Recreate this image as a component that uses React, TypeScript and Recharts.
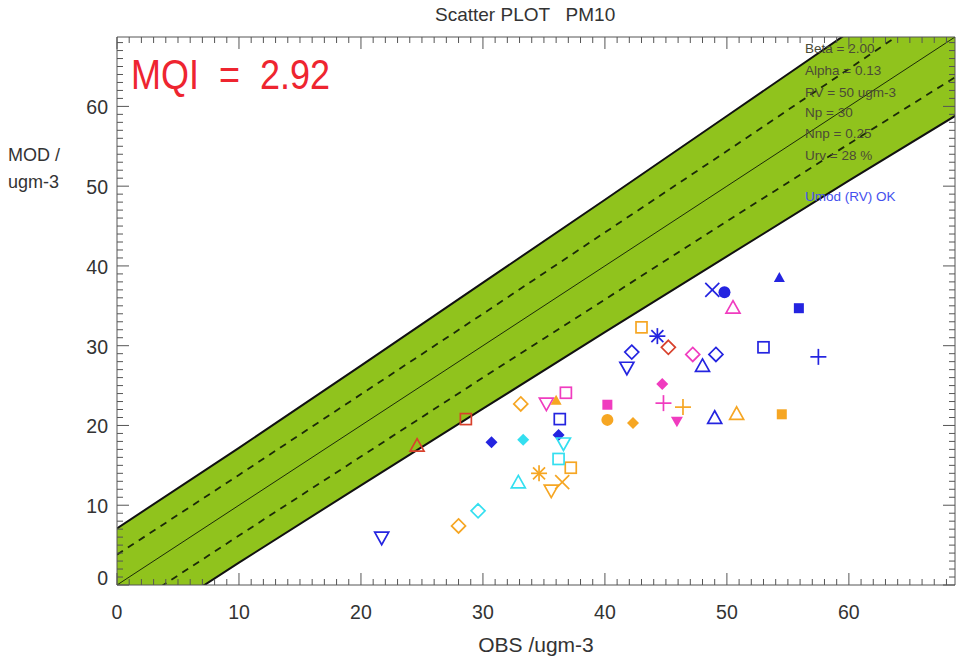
import React from 'react';
import { ComposedChart, XAxis, YAxis, Area, Line, Scatter } from 'recharts';

// ---------- data ----------
const bandX = [0, 10, 20, 30, 40, 50, 60, 70];
const outerHalfWidth = [7.1, 7.2, 7.5, 7.9, 8.3, 8.8, 9.3, 10.0];
const innerHalfWidth = [3.8, 3.8, 3.9, 4.0, 4.2, 4.4, 4.7, 5.1];

const majorTicks = [0, 10, 20, 30, 40, 50, 60];
const minorTicks = Array.from({ length: 69 }, (_, i) => i);
const axisMax = 68.7;

const statLines = ['Beta = 2.00', 'Alpha = 0.13', 'RV = 50 ugm-3', 'Np = 30', 'Nnp = 0.25', 'Urv = 28 %'];
const statusLine = 'Umod (RV) OK';
const mqiText = 'MQI  =  2.92';
const titleText = 'Scatter PLOT   PM10';

// blue
const blueFilledTriangle = [{ x: 54.3, y: 38.5 }];
const blueX = [{ x: 48.8, y: 37.0 }];
const blueFilledCircle = [{ x: 49.8, y: 36.7 }];
const blueFilledSquare = [{ x: 55.9, y: 34.7 }];
const blueAsterisk = [{ x: 44.3, y: 31.2 }];
const blueOpenSquare = [{ x: 53.0, y: 29.8 }, { x: 36.3, y: 20.8 }];
const bluePlus = [{ x: 57.5, y: 28.6 }];
const blueOpenDiamond = [{ x: 42.2, y: 29.2 }, { x: 49.1, y: 28.9 }];
const blueOpenInvTriangle = [{ x: 41.8, y: 27.3 }, { x: 21.7, y: 6.0 }];
const blueOpenTriangle = [{ x: 48.0, y: 27.4 }, { x: 49.0, y: 20.9 }];
const blueFilledDiamond = [{ x: 30.7, y: 17.9 }, { x: 36.2, y: 18.8 }];
// magenta
const magentaOpenTriangle = [{ x: 50.5, y: 34.7 }];
const magentaOpenDiamond = [{ x: 47.2, y: 28.9 }];
const magentaFilledDiamond = [{ x: 44.7, y: 25.2 }];
const magentaFilledSquare = [{ x: 40.2, y: 22.6 }];
const magentaPlus = [{ x: 44.8, y: 22.8 }];
const magentaFilledInvTriangle = [{ x: 45.9, y: 20.6 }];
const magentaOpenSquare = [{ x: 36.8, y: 24.1 }];
const magentaOpenInvTriangle = [{ x: 35.2, y: 22.8 }];
// orange
const orangeOpenSquare = [{ x: 43.0, y: 32.3 }, { x: 37.2, y: 14.7 }];
const orangePlus = [{ x: 46.4, y: 22.3 }];
const orangeFilledCircle = [{ x: 40.2, y: 20.7 }];
const orangeFilledDiamond = [{ x: 42.3, y: 20.3 }];
const orangeOpenTriangle = [{ x: 50.8, y: 21.4 }];
const orangeFilledSquare = [{ x: 54.5, y: 21.4 }];
const orangeFilledTriangle = [{ x: 36.0, y: 23.1 }];
const orangeOpenDiamond = [{ x: 33.1, y: 22.7 }, { x: 28.0, y: 7.4 }];
const orangeAsterisk = [{ x: 34.6, y: 14.0 }];
const orangeX = [{ x: 36.5, y: 12.9 }];
const orangeOpenInvTriangle = [{ x: 35.6, y: 11.9 }];
// cyan
const cyanFilledDiamond = [{ x: 33.3, y: 18.2 }];
const cyanOpenInvTriangle = [{ x: 36.6, y: 17.8 }];
const cyanOpenSquare = [{ x: 36.2, y: 15.8 }];
const cyanOpenTriangle = [{ x: 32.9, y: 12.8 }];
const cyanOpenDiamond = [{ x: 29.6, y: 9.3 }];
// red
const redOpenDiamond = [{ x: 45.2, y: 29.8 }];
const redOpenSquare = [{ x: 28.6, y: 20.8 }];
const redOpenTriangle = [{ x: 24.6, y: 17.4 }];

// ---------- styles ----------
const BLUE = '#2424e0';
const MAGENTA = '#f03cbf';
const ORANGE = '#f6a623';
const CYAN = '#34dff0';
const RED = '#d8412c';
const GREEN = '#90c31d';
const AXIS = '#555';
const FONT = '"Liberation Sans", Arial, sans-serif';

const series: { data: { x: number; y: number }[]; kind: string; color: string }[] = [
  { data: blueFilledTriangle, kind: 'filledTriangle', color: BLUE },
  { data: blueX, kind: 'x', color: BLUE },
  { data: blueFilledCircle, kind: 'filledCircle', color: BLUE },
  { data: blueFilledSquare, kind: 'filledSquare', color: BLUE },
  { data: blueAsterisk, kind: 'asterisk', color: BLUE },
  { data: blueOpenSquare, kind: 'openSquare', color: BLUE },
  { data: bluePlus, kind: 'plus', color: BLUE },
  { data: blueOpenDiamond, kind: 'openDiamond', color: BLUE },
  { data: blueOpenInvTriangle, kind: 'openInvTriangle', color: BLUE },
  { data: blueOpenTriangle, kind: 'openTriangle', color: BLUE },
  { data: blueFilledDiamond, kind: 'filledDiamond', color: BLUE },
  { data: magentaOpenTriangle, kind: 'openTriangle', color: MAGENTA },
  { data: magentaOpenDiamond, kind: 'openDiamond', color: MAGENTA },
  { data: magentaFilledDiamond, kind: 'filledDiamond', color: MAGENTA },
  { data: magentaFilledSquare, kind: 'filledSquare', color: MAGENTA },
  { data: magentaPlus, kind: 'plus', color: MAGENTA },
  { data: magentaFilledInvTriangle, kind: 'filledInvTriangle', color: MAGENTA },
  { data: magentaOpenSquare, kind: 'openSquare', color: MAGENTA },
  { data: magentaOpenInvTriangle, kind: 'openInvTriangle', color: MAGENTA },
  { data: orangeOpenSquare, kind: 'openSquare', color: ORANGE },
  { data: orangePlus, kind: 'plus', color: ORANGE },
  { data: orangeFilledCircle, kind: 'filledCircle', color: ORANGE },
  { data: orangeFilledDiamond, kind: 'filledDiamond', color: ORANGE },
  { data: orangeOpenTriangle, kind: 'openTriangle', color: ORANGE },
  { data: orangeFilledSquare, kind: 'filledSquare', color: ORANGE },
  { data: orangeFilledTriangle, kind: 'filledTriangle', color: ORANGE },
  { data: orangeOpenDiamond, kind: 'openDiamond', color: ORANGE },
  { data: orangeAsterisk, kind: 'asterisk', color: ORANGE },
  { data: orangeX, kind: 'x', color: ORANGE },
  { data: orangeOpenInvTriangle, kind: 'openInvTriangle', color: ORANGE },
  { data: cyanFilledDiamond, kind: 'filledDiamond', color: CYAN },
  { data: cyanOpenInvTriangle, kind: 'openInvTriangle', color: CYAN },
  { data: cyanOpenSquare, kind: 'openSquare', color: CYAN },
  { data: cyanOpenTriangle, kind: 'openTriangle', color: CYAN },
  { data: cyanOpenDiamond, kind: 'openDiamond', color: CYAN },
  { data: redOpenDiamond, kind: 'openDiamond', color: RED },
  { data: redOpenSquare, kind: 'openSquare', color: RED },
  { data: redOpenTriangle, kind: 'openTriangle', color: RED },
];

const bandRows = bandX.map((x, i) => ({
  x,
  band: [x - outerHalfWidth[i], x + outerHalfWidth[i]],
  upper: x + outerHalfWidth[i],
  lower: x - outerHalfWidth[i],
  dashUp: x + innerHalfWidth[i],
  dashLo: x - innerHalfWidth[i],
  oneToOne: x,
}));

function Marker({ cx, cy, kind, color }: any) {
  if (cx == null || cy == null) return null;
  const sw = 1.7;
  switch (kind) {
    case 'openSquare':
      return <rect x={cx - 5.5} y={cy - 5.5} width={11} height={11} fill="none" stroke={color} strokeWidth={sw} />;
    case 'filledSquare':
      return <rect x={cx - 5} y={cy - 5} width={10} height={10} fill={color} />;
    case 'openDiamond':
      return <polygon points={`${cx},${cy - 7} ${cx + 7},${cy} ${cx},${cy + 7} ${cx - 7},${cy}`} fill="none" stroke={color} strokeWidth={sw} />;
    case 'filledDiamond':
      return <polygon points={`${cx},${cy - 6} ${cx + 6},${cy} ${cx},${cy + 6} ${cx - 6},${cy}`} fill={color} />;
    case 'openTriangle':
      return <polygon points={`${cx},${cy - 7.5} ${cx + 7},${cy + 5} ${cx - 7},${cy + 5}`} fill="none" stroke={color} strokeWidth={sw} />;
    case 'filledTriangle':
      return <polygon points={`${cx},${cy - 6} ${cx + 5.5},${cy + 4} ${cx - 5.5},${cy + 4}`} fill={color} />;
    case 'openInvTriangle':
      return <polygon points={`${cx - 7},${cy - 5} ${cx + 7},${cy - 5} ${cx},${cy + 7.5}`} fill="none" stroke={color} strokeWidth={sw} />;
    case 'filledInvTriangle':
      return <polygon points={`${cx - 6},${cy - 4} ${cx + 6},${cy - 4} ${cx},${cy + 6.5}`} fill={color} />;
    case 'filledCircle':
      return <circle cx={cx} cy={cy} r={6} fill={color} />;
    case 'plus':
      return (
        <g stroke={color} strokeWidth={sw}>
          <line x1={cx - 8} y1={cy} x2={cx + 8} y2={cy} />
          <line x1={cx} y1={cy - 8} x2={cx} y2={cy + 8} />
        </g>
      );
    case 'x':
      return (
        <g stroke={color} strokeWidth={sw}>
          <line x1={cx - 7} y1={cy - 7} x2={cx + 7} y2={cy + 7} />
          <line x1={cx - 7} y1={cy + 7} x2={cx + 7} y2={cy - 7} />
        </g>
      );
    case 'asterisk':
      return (
        <g stroke={color} strokeWidth={sw}>
          <line x1={cx - 8} y1={cy} x2={cx + 8} y2={cy} />
          <line x1={cx} y1={cy - 8} x2={cx} y2={cy + 8} />
          <line x1={cx - 6} y1={cy - 6} x2={cx + 6} y2={cy + 6} />
          <line x1={cx - 6} y1={cy + 6} x2={cx + 6} y2={cy - 6} />
        </g>
      );
    default:
      return null;
  }
}

const MAJ = 12;
const MIN = 6;
const isMajor = (v: number) => v % 10 === 0;
const PLOT_BOTTOM = 585;
const PLOT_TOP = 37;
const PLOT_LEFT = 117;
const PLOT_RIGHT = 955;
const TICK_FONT = 19.5;

function BottomTick({ x, payload }: any) {
  const v = payload.value;
  const y = PLOT_BOTTOM;
  return (
    <g>
      <line x1={x} y1={y} x2={x} y2={y - (isMajor(v) ? MAJ : MIN)} stroke={AXIS} strokeWidth={1} />
      {majorTicks.includes(v) && (
        <text x={x} y={y + 34} textAnchor="middle" fontSize={TICK_FONT} fontFamily={FONT} fill="#333">
          {v}
        </text>
      )}
    </g>
  );
}
function TopTick({ x, payload }: any) {
  const v = payload.value;
  const y = PLOT_TOP;
  return <line x1={x} y1={y} x2={x} y2={y + (isMajor(v) ? MAJ : MIN)} stroke={AXIS} strokeWidth={1} />;
}
function LeftTick({ y, payload }: any) {
  const v = payload.value;
  const x = PLOT_LEFT;
  return (
    <g>
      <line x1={x} y1={y} x2={x + (isMajor(v) ? MAJ : MIN)} y2={y} stroke={AXIS} strokeWidth={1} />
      {majorTicks.includes(v) && (
        <text x={x - 9} y={v === 0 ? y : y + 8} textAnchor="end" fontSize={TICK_FONT} fontFamily={FONT} fill="#333">
          {v}
        </text>
      )}
    </g>
  );
}
function RightTick({ y, payload }: any) {
  const v = payload.value;
  const x = PLOT_RIGHT;
  return <line x1={x} y1={y} x2={x - (isMajor(v) ? MAJ : MIN)} y2={y} stroke={AXIS} strokeWidth={1} />;
}

export default function App() {
  const W = 963;
  const H = 664;
  const common = {
    type: 'number' as const,
    domain: [0, axisMax],
    allowDataOverflow: true,
    ticks: minorTicks,
    interval: 0 as const,
    tickSize: 0,
    tickMargin: 0,
    tickLine: false,
    axisLine: { stroke: AXIS },
  };
  return (
    <div style={{ position: 'absolute', left: 0, top: 0, width: W, height: H, background: '#fff' }}>
      <ComposedChart width={W} height={H} data={bandRows} margin={{ top: 36, right: 7, bottom: 78, left: 116 }}>
        <XAxis dataKey="x" {...common} height={1} tick={<BottomTick />} />
        <XAxis xAxisId="top" orientation="top" dataKey="x" {...common} height={1} tick={<TopTick />} />
        <YAxis {...common} width={1} tick={<LeftTick />} />
        <YAxis yAxisId="right" orientation="right" {...common} width={1} tick={<RightTick />} />
        <Area dataKey="band" type="linear" fill={GREEN} fillOpacity={1} stroke="none" isAnimationActive={false} />
        <Line dataKey="dashUp" type="linear" stroke="#1c2a08" strokeWidth={1.8} strokeDasharray="7 6" dot={false} isAnimationActive={false} />
        <Line dataKey="dashLo" type="linear" stroke="#1c2a08" strokeWidth={1.8} strokeDasharray="7 6" dot={false} isAnimationActive={false} />
        <Line dataKey="oneToOne" type="linear" stroke="#1c2a08" strokeWidth={1} dot={false} isAnimationActive={false} />
        <Line dataKey="upper" type="linear" stroke="#111" strokeWidth={2} dot={false} isAnimationActive={false} />
        <Line dataKey="lower" type="linear" stroke="#111" strokeWidth={2} dot={false} isAnimationActive={false} />
        {series.map((s, i) => (
          <Scatter
            key={i}
            data={s.data}
            dataKey="y"
            isAnimationActive={false}
            shape={(p: any) => <Marker cx={p.cx} cy={p.cy} kind={s.kind} color={s.color} />}
          />
        ))}
      </ComposedChart>
      <svg width={W} height={H} style={{ position: 'absolute', left: 0, top: 0, pointerEvents: 'none' }}>
        <text x={435} y={21} fontSize={19} fontFamily={FONT} fill="#333" style={{ whiteSpace: 'pre' }}>
          {titleText}
        </text>
        <text transform="translate(131,89) scale(1,1.2)" fontSize={36} fontFamily={FONT} fill="#ee2530" style={{ whiteSpace: 'pre' }}>
          {mqiText}
        </text>
        {statLines.map((t, i) => (
          <text key={i} x={805} y={[53, 75, 97, 117, 138, 160][i]} fontSize={13.5} fontFamily={FONT} fill="#4b4b36">
            {t}
          </text>
        ))}
        <text x={805} y={201} fontSize={13.5} fontFamily={FONT} fill="#4450ee">
          {statusLine}
        </text>
        <text x={8} y={161} fontSize={18} fontFamily={FONT} fill="#333">MOD /</text>
        <text x={8} y={188} fontSize={18} fontFamily={FONT} fill="#333">ugm-3</text>
        <text x={536} y={652} fontSize={21} textAnchor="middle" fontFamily={FONT} fill="#333">OBS /ugm-3</text>
      </svg>
    </div>
  );
}
